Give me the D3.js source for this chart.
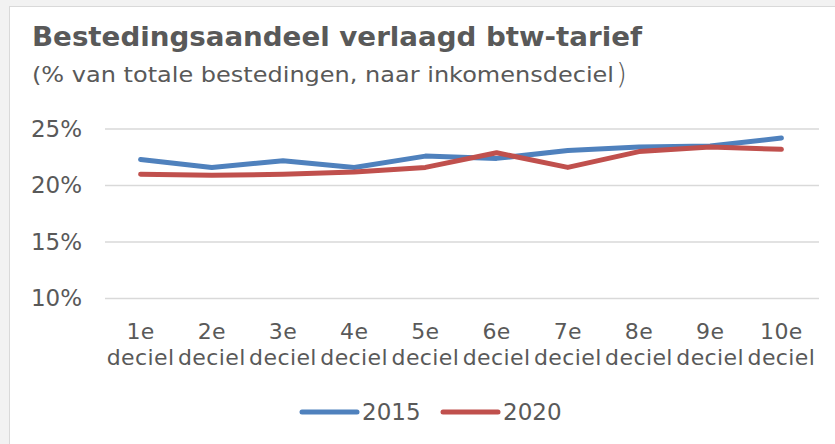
<!DOCTYPE html>
<html>
<head>
<meta charset="utf-8">
<script src="https://cdn.jsdelivr.net/npm/d3@7"></script>
<style>
  body { margin: 0; background: #f2f2f2; }
  text { font-family: "DejaVu Sans", Verdana, sans-serif; fill: #595959; }
</style>
</head>
<body>
<script>
// data
var categories = [ "1e deciel", "2e deciel", "3e deciel", "4e deciel", "5e deciel",
  "6e deciel", "7e deciel", "8e deciel", "9e deciel", "10e deciel" ];
var values2015 = [ 22.3, 21.6, 22.2, 21.6, 22.6, 22.4, 23.1, 23.4, 23.5, 24.2 ];
var values2020 = [ 21.0, 20.9, 21.0, 21.2, 21.6, 22.9, 21.6, 23.0, 23.4, 23.2 ];
var yTicks = [ 10, 15, 20, 25 ];
var seriesNames = [ "2015", "2020" ];
var colors = [ "#4f81bd", "#c0504d" ];

var svg = d3.select( "body" ).append( "svg" )
  .attr( "width", 835 )
  .attr( "height", 444 )
  .style( "display", "block" );

// frame
svg.append( "rect" )
  .attr( "x", 9.5 ).attr( "y", 6.5 )
  .attr( "width", 840 ).attr( "height", 450 )
  .attr( "fill", "#fff" )
  .attr( "stroke", "#d9d9d9" );

// title
svg.append( "text" )
  .attr( "x", 32 ).attr( "y", 46 )
  .attr( "textLength", 610 ).attr( "lengthAdjust", "spacingAndGlyphs" )
  .style( "font-size", "26px" ).style( "font-weight", "bold" )
  .text( "Bestedingsaandeel verlaagd btw-tarief" );

svg.append( "text" )
  .attr( "x", 32 ).attr( "y", 82 )
  .attr( "textLength", 582 ).attr( "lengthAdjust", "spacingAndGlyphs" )
  .style( "font-size", "21px" )
  .text( "(% van totale bestedingen, naar inkomensdeciel" );
svg.append( "text" )
  .attr( "x", 616 ).attr( "y", 84 )
  .style( "font-size", "28px" )
  .style( "font-weight", "300" )
  .text( ")" );

var x = d3.scaleBand()
  .domain( categories )
  .range( [ 105, 817 ] );

var y = d3.scaleLinear()
  .domain( [ 10, 25 ] )
  .range( [ 298.5, 129 ] );

// gridlines
svg.selectAll( "line.grid" )
  .data( yTicks )
  .enter().append( "line" )
  .attr( "class", "grid" )
  .attr( "x1", 105 ).attr( "x2", 819 )
  .attr( "y1", function ( d ) { return y( d ); } )
  .attr( "y2", function ( d ) { return y( d ); } )
  .attr( "stroke", "#d9d9d9" )
  .attr( "stroke-width", 1.5 );

// y axis
var yAxis = svg.append( "g" )
  .attr( "transform", "translate(88,0)" )
  .call( d3.axisLeft( y ).tickValues( yTicks ).tickSize( 0 ).tickPadding( 6 )
    .tickFormat( function ( d ) { return d + "%"; } ) );
yAxis.select( ".domain" ).remove();
yAxis.selectAll( "text" )
  .attr( "fill", "#595959" )
  .style( "font-family", "\"DejaVu Sans\", Verdana, sans-serif" )
  .style( "font-size", "23px" );

// x labels, two lines each
var xLab = svg.selectAll( "text.xlab" )
  .data( categories )
  .enter().append( "text" )
  .attr( "class", "xlab" )
  .attr( "text-anchor", "middle" )
  .style( "font-size", "22px" )
  .style( "letter-spacing", "0.4px" );
xLab.append( "tspan" )
  .attr( "x", function ( d ) { return x( d ) + x.bandwidth() / 2; } )
  .attr( "y", 339 )
  .text( function ( d ) { return d.split( " " )[ 0 ]; } );
xLab.append( "tspan" )
  .attr( "x", function ( d ) { return x( d ) + x.bandwidth() / 2; } )
  .attr( "y", 365 )
  .text( function ( d ) { return d.split( " " )[ 1 ]; } );

// lines
var line = d3.line()
  .x( function ( d, i ) { return x( categories[ i ] ) + x.bandwidth() / 2; } )
  .y( function ( d ) { return y( d ); } );

[ values2015, values2020 ].forEach( function ( vals, k ) {
  svg.append( "path" )
    .datum( vals )
    .attr( "d", line )
    .attr( "fill", "none" )
    .attr( "stroke", colors[ k ] )
    .attr( "stroke-width", 5 )
    .attr( "stroke-linecap", "round" )
    .attr( "stroke-linejoin", "round" );
} );

// legend
var legendX = [ 302, 443 ];
var leg = svg.selectAll( "g.legend" )
  .data( seriesNames )
  .enter().append( "g" )
  .attr( "class", "legend" )
  .attr( "transform", function ( d, i ) { return "translate(" + legendX[ i ] + ",412)"; } );
leg.append( "line" )
  .attr( "x1", 0 ).attr( "x2", 55 )
  .attr( "y1", 0 ).attr( "y2", 0 )
  .attr( "stroke", function ( d, i ) { return colors[ i ]; } )
  .attr( "stroke-width", 5 )
  .attr( "stroke-linecap", "round" );
leg.append( "text" )
  .attr( "x", 60 ).attr( "y", 8 )
  .style( "font-size", "23px" )
  .text( function ( d ) { return d; } );
</script>
</body>
</html>
